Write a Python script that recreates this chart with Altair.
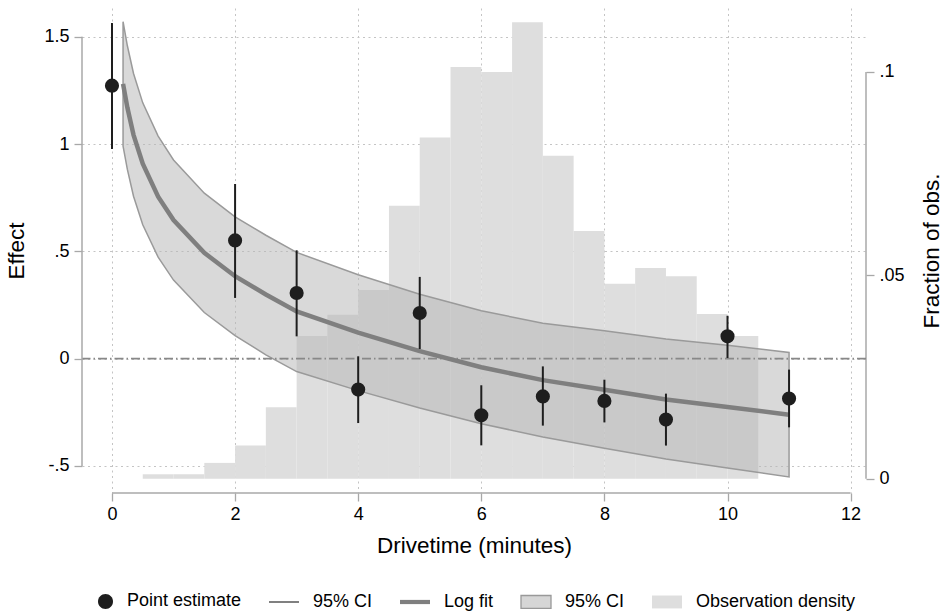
import altair as alt
import pandas as pd

# ---------------- data ----------------
# point estimates with 95% CI
x_pts = [0, 2, 3, 4, 5, 6, 7, 8, 9, 10, 11]
est = [1.272, 0.551, 0.306, -0.144, 0.213, -0.264, -0.176, -0.197, -0.284, 0.104, -0.186]
ci_lo = [0.977, 0.283, 0.104, -0.300, 0.045, -0.404, -0.312, -0.297, -0.405, 0.003, -0.320]
ci_hi = [1.564, 0.814, 0.505, 0.011, 0.381, -0.124, -0.036, -0.098, -0.163, 0.200, -0.051]

# log fit and its 95% CI band
fit_x = [0.18, 0.25, 0.35, 0.5, 0.75, 1, 1.5, 2, 2.5, 3, 4, 5, 6, 7, 8, 9, 10, 11]
fit_y = [1.28, 1.17, 1.043, 0.908, 0.755, 0.646, 0.493, 0.384, 0.299, 0.22, 0.121, 0.035,
         -0.04, -0.10, -0.145, -0.19, -0.225, -0.261]
band_hi = [1.57, 1.458, 1.329, 1.192, 1.037, 0.926, 0.771, 0.661, 0.575, 0.495, 0.391, 0.30,
           0.223, 0.165, 0.13, 0.092, 0.062, 0.029]
band_lo = [0.99, 0.882, 0.757, 0.624, 0.473, 0.366, 0.215, 0.107, 0.018, -0.06, -0.149, -0.23,
           -0.303, -0.365, -0.417, -0.468, -0.51, -0.551]

# observation density histogram
bin_lo = [0.5, 1.0, 1.5, 2.0, 2.5, 3.0, 3.5, 4.0, 4.5, 5.0, 5.5, 6.0, 6.5, 7.0, 7.5, 8.0, 8.5, 9.0, 9.5, 10.0]
bin_hi = [1.0, 1.5, 2.0, 2.5, 3.0, 3.5, 4.0, 4.5, 5.0, 5.5, 6.0, 6.5, 7.0, 7.5, 8.0, 8.5, 9.0, 9.5, 10.0, 10.5]
frac = [0.0011, 0.0011, 0.0039, 0.0082, 0.0176, 0.0351, 0.0403, 0.0464, 0.0671, 0.0839,
        0.1012, 0.1000, 0.1122, 0.0794, 0.0609, 0.0479, 0.0518, 0.0498, 0.0405, 0.0351]

# axes
x_ticks = [0, 2, 4, 6, 8, 10, 12]
left_ticks = [-0.5, 0, 0.5, 1, 1.5]
left_tick_labels = ["-.5", "0", ".5", "1", "1.5"]
right_ticks = [0, 0.05, 0.1]
right_tick_labels = ["0", ".05", ".1"]
zero_line = [0]

# legend
legend_keys = ["pe", "ci", "fit", "band", "dens"]
legend_text = ["Point estimate", "95% CI", "Log fit", "95% CI", "Observation density"]

# ---------------- styling ----------------
FONT = "Liberation Sans"
W, H = 784, 485
X_DOM = [-0.487, 12.25]
YL_DOM = [-0.626, 1.634]
YR_DOM = [-0.0035, 0.1157]
AX_COL = "#a8a8a8"
GRID_COL = "#c4c4c4"
DARK = "#1e1e1e"
LBL = 18
TTL = 22.5


def label_expr(vals, labs):
    parts = [f"datum.value == {v} ? '{l}'" for v, l in zip(vals, labs)]
    return " : ".join(parts) + " : ''"


def key_expr(keys, texts):
    parts = [f"datum.label == '{k}' ? '{t}'" for k, t in zip(keys, texts)]
    return " : ".join(parts) + " : ''"


common_axis = dict(domain=False, tickColor=AX_COL, tickSize=8, tickWidth=1.3,
                   labelFont=FONT, labelFontSize=LBL, labelColor="black",
                   titleFont=FONT, titleFontSize=TTL, titleFontWeight="normal",
                   titleColor="black", gridColor=GRID_COL, gridDash=[2, 3.5],
                   gridWidth=1, labelFlush=False, labelOverlap=False)

x_axis = alt.Axis(values=x_ticks, grid=True, labelPadding=4, titlePadding=11, **common_axis)
yl_axis = alt.Axis(values=left_ticks, grid=True, orient="left", labelPadding=5,
                   titlePadding=15, labelExpr=label_expr(left_ticks, left_tick_labels),
                   **common_axis)
yr_axis = alt.Axis(values=right_ticks, grid=False, orient="right", labelPadding=5,
                   titlePadding=16, titleAngle=270, titleBaseline="top",
                   labelExpr=label_expr(right_ticks, right_tick_labels),
                   **common_axis)

x_scale = alt.Scale(domain=X_DOM, nice=False, zero=False)
yl_scale = alt.Scale(domain=YL_DOM, nice=False, zero=False)
yr_scale = alt.Scale(domain=YR_DOM, nice=False, zero=False)

X_TITLE = "Drivetime (minutes)"
YL_TITLE = "Effect"
YR_TITLE = "Fraction of obs."


def xe(f):
    return alt.X(f, type="quantitative", scale=x_scale, axis=x_axis, title=X_TITLE)


def yl(f):
    return alt.Y(f, type="quantitative", scale=yl_scale, axis=yl_axis, title=YL_TITLE)


def yr(f):
    return alt.Y(f, type="quantitative", scale=yr_scale, axis=yr_axis, title=YR_TITLE)


# ---------------- data frames ----------------
df_pts = pd.DataFrame({"x": x_pts, "est": est, "lo": ci_lo, "hi": ci_hi})
df_fit = pd.DataFrame({"x": fit_x, "fit": fit_y, "lo": band_lo, "hi": band_hi})
df_hist = pd.DataFrame({"lo": bin_lo, "hi": bin_hi, "frac": frac})
df_zero = pd.DataFrame({"y": zero_line})
df_laxis = pd.DataFrame({"lo": [min(left_ticks)], "hi": [max(left_ticks)]})
df_raxis = pd.DataFrame({"lo": [min(right_ticks)], "hi": [max(right_ticks)]})
df_baxis = pd.DataFrame({"lo": [min(x_ticks)], "hi": [max(x_ticks)]})
df_leg = pd.DataFrame({"key": legend_keys, "nx": [None] * 5, "ny": [None] * 5})

# ---------------- layers ----------------
hist = alt.Chart(df_hist).mark_rect(color="#dedede").encode(
    x=xe("lo"), x2="hi", y=yr("frac"), y2=alt.datum(0))
r_axis_line = alt.Chart(df_raxis).mark_rule(color=AX_COL, strokeWidth=1.5).encode(
    x=alt.value(W), y=yr("lo"), y2="hi")

band = alt.Chart(df_fit).mark_area(fill="#b6b6b6", fillOpacity=0.52, stroke="#9a9a9a",
                                   strokeWidth=1.5).encode(x=xe("x"), y=yl("lo"), y2="hi")
zero = alt.Chart(df_zero).mark_rule(color="#888888", strokeWidth=1.6,
                                     strokeDash=[9, 3, 1.5, 3]).encode(y=yl("y"))
fit = alt.Chart(df_fit).mark_line(color="#7f7f7f", strokeWidth=4.5).encode(
    x=xe("x"), y=yl("fit"))
ci = alt.Chart(df_pts).mark_rule(color=DARK, strokeWidth=2).encode(
    x=xe("x"), y=yl("lo"), y2="hi")
pts = alt.Chart(df_pts).mark_circle(color=DARK, size=200, opacity=1).encode(
    x=xe("x"), y=yl("est"))
l_axis_line = alt.Chart(df_laxis).mark_rule(color=AX_COL, strokeWidth=1.5).encode(
    x=alt.value(0), y=yl("lo"), y2="hi")
b_axis_line = alt.Chart(df_baxis).mark_rule(color=AX_COL, strokeWidth=1.5).encode(
    y=alt.value(H), x=xe("lo"), x2="hi")

shapes = [
    "M0,0A0.5,0.5 0 1,1 1,0A0.5,0.5 0 1,1 0,0Z",
    "M-1,-0.045H1V0.045H-1Z",
    "M-1,-0.14H1V0.14H-1Z",
    "M-1,-0.43H1V0.43H-1Z",
    "M-1,-0.43H1V0.43H-1Z",
]
fills = [DARK, "#444444", "#7f7f7f", "#d6d6d6", "#dedede"]
strokes = ["transparent", "transparent", "transparent", "#999999", "transparent"]

leg = alt.Legend(title=None, orient="none", legendX=0, legendY=577, direction="horizontal",
                 columns=5, symbolSize=900, symbolStrokeWidth=1.3, labelFont=FONT,
                 labelFontSize=LBL, labelColor="black", labelOffset=13, columnPadding=24,
                 padding=0, labelExpr=key_expr(legend_keys, legend_text))

legend_dummy = alt.Chart(df_leg).mark_point(filled=True, opacity=1).encode(
    x=xe("nx"), y=yl("ny"),
    fill=alt.Fill("key:N", scale=alt.Scale(domain=legend_keys, range=fills), legend=leg),
    stroke=alt.Stroke("key:N", scale=alt.Scale(domain=legend_keys, range=strokes), legend=leg),
    shape=alt.Shape("key:N", scale=alt.Scale(domain=legend_keys, range=shapes), legend=leg),
)

hist_group = alt.layer(hist, r_axis_line)
main_group = alt.layer(band, zero, fit, ci, pts, l_axis_line, b_axis_line, legend_dummy)

chart = alt.layer(hist_group, main_group).resolve_scale(y="independent").properties(
    width=W, height=H,
    padding={"left": 82, "top": 8, "right": 80, "bottom": 120},
    autosize=alt.AutoSizeParams(type="none"),
    background="white",
).configure_view(stroke=None)

chart.save("out.html", embed_options={"renderer": "svg", "actions": False})
